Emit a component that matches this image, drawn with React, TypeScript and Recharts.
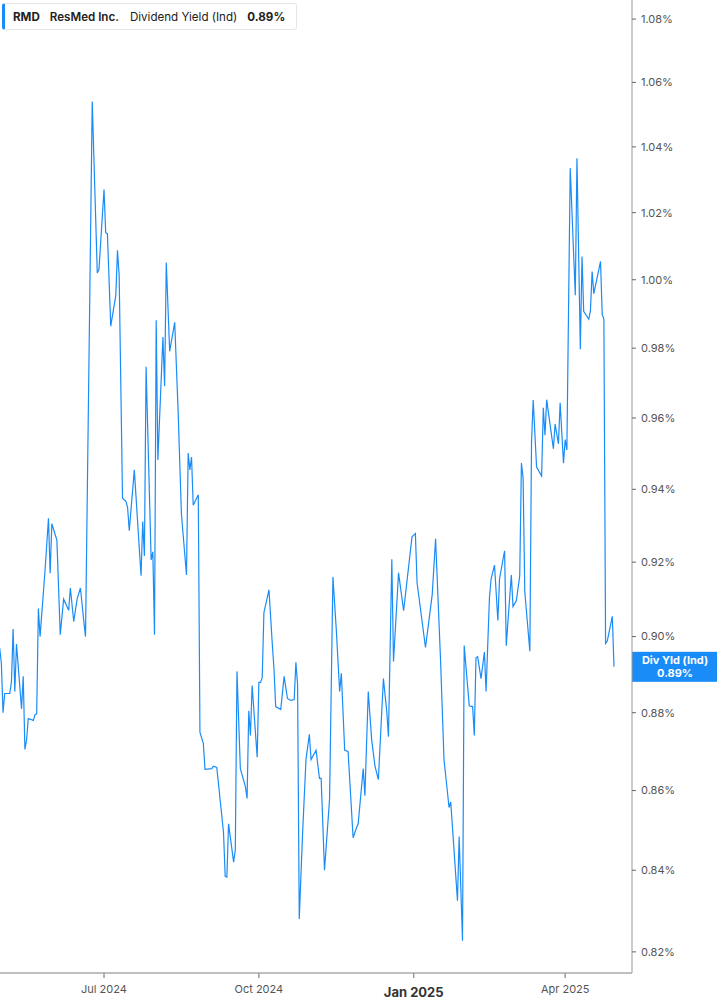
import React from 'react';
import { LineChart, Line, XAxis, YAxis, ReferenceLine } from 'recharts';

const dates = [
  '2024-04-30','2024-05-01','2024-05-02','2024-05-03','2024-05-06','2024-05-07','2024-05-08','2024-05-09','2024-05-10',
  '2024-05-13','2024-05-14','2024-05-15','2024-05-16','2024-05-17','2024-05-20','2024-05-21','2024-05-22','2024-05-23',
  '2024-05-24','2024-05-27','2024-05-29','2024-05-30','2024-05-31','2024-06-03','2024-06-05','2024-06-07','2024-06-10',
  '2024-06-11','2024-06-13','2024-06-15','2024-06-17','2024-06-19','2024-06-20','2024-06-24','2024-06-27','2024-06-28',
  '2024-07-01','2024-07-02','2024-07-03','2024-07-05','2024-07-08','2024-07-09','2024-07-10','2024-07-12','2024-07-14',
  '2024-07-15','2024-07-16','2024-07-19','2024-07-23','2024-07-24','2024-07-25','2024-07-26','2024-07-29','2024-07-30',
  '2024-07-31','2024-08-01','2024-08-02','2024-08-05','2024-08-06','2024-08-07','2024-08-09','2024-08-12','2024-08-14',
  '2024-08-16','2024-08-19','2024-08-20','2024-08-21','2024-08-22','2024-08-23','2024-08-26','2024-08-27','2024-08-29',
  '2024-08-30','2024-09-03','2024-09-04','2024-09-06','2024-09-10','2024-09-11','2024-09-12','2024-09-13','2024-09-16',
  '2024-09-17','2024-09-18','2024-09-20','2024-09-23','2024-09-24','2024-09-25','2024-09-26','2024-09-27','2024-09-30',
  '2024-10-01','2024-10-02','2024-10-03','2024-10-04','2024-10-07','2024-10-09','2024-10-10','2024-10-11','2024-10-14',
  '2024-10-16','2024-10-18','2024-10-20','2024-10-22','2024-10-23','2024-10-24','2024-10-25','2024-10-27','2024-10-29',
  '2024-10-31','2024-11-01','2024-11-04','2024-11-06','2024-11-07','2024-11-09','2024-11-12','2024-11-14','2024-11-16',
  '2024-11-18','2024-11-19','2024-11-21','2024-11-23','2024-11-26','2024-11-28','2024-11-29','2024-12-02','2024-12-03',
  '2024-12-05','2024-12-07','2024-12-09','2024-12-11','2024-12-14','2024-12-16','2024-12-17','2024-12-19','2024-12-20',
  '2024-12-23','2024-12-26','2024-12-31','2025-01-02','2025-01-03','2025-01-08','2025-01-12','2025-01-14','2025-01-17',
  '2025-01-19','2025-01-22','2025-01-23','2025-01-27','2025-01-28','2025-01-30','2025-01-31','2025-02-03','2025-02-05',
  '2025-02-06','2025-02-07','2025-02-08','2025-02-10','2025-02-12','2025-02-13','2025-02-15','2025-02-16','2025-02-18',
  '2025-02-20','2025-02-21','2025-02-24','2025-02-25','2025-02-26','2025-02-28','2025-03-01','2025-03-03','2025-03-05',
  '2025-03-06','2025-03-07','2025-03-08','2025-03-11','2025-03-12','2025-03-13','2025-03-15','2025-03-18','2025-03-19',
  '2025-03-20','2025-03-21','2025-03-25','2025-03-26','2025-03-28','2025-03-29','2025-03-31','2025-04-01','2025-04-02',
  '2025-04-04','2025-04-07','2025-04-08','2025-04-10','2025-04-11','2025-04-12','2025-04-15','2025-04-16','2025-04-17',
  '2025-04-18','2025-04-22','2025-04-23','2025-04-24','2025-04-25','2025-04-26','2025-04-29','2025-04-30',
];

const divYield = [
  0.897,0.893,0.880,0.885,0.885,0.888,0.902,0.8855,0.898,
  0.881,0.8895,0.8705,0.873,0.8785,0.878,0.8795,0.8797,0.9075,
  0.900,0.918,0.932,0.917,0.9305,0.926,0.9005,0.910,0.907,
  0.913,0.904,0.910,0.913,0.904,0.900,1.054,1.002,1.003,
  1.027,1.014,1.0137,0.9864,0.9954,1.0087,1.0012,0.9375,0.9367,
  0.935,0.9286,0.9454,0.9163,0.9311,0.9217,0.9746,0.9206,0.9228,
  0.9005,0.9881,0.9482,0.9832,0.9691,1.0051,0.9791,0.9875,0.9623,
  0.9331,0.9165,0.9501,0.9454,0.949,0.9356,0.9385,0.8749,0.8721,
  0.8654,0.8656,0.8662,0.8659,0.8494,0.8385,0.8383,0.8516,0.842,
  0.8451,0.8908,0.8656,0.861,0.858,0.8805,0.8741,0.8871,0.8685,
  0.8879,0.8879,0.8892,0.9064,0.9125,0.8979,0.8913,0.8816,0.8808,
  0.8895,0.8837,0.8832,0.8834,0.8932,0.8874,0.828,0.8494,0.8679,
  0.8744,0.8679,0.8703,0.8631,0.8631,0.840,0.8577,0.916,0.9019,
  0.8855,0.8903,0.8703,0.870,0.8481,0.8506,0.8516,0.8656,0.8587,
  0.8855,0.8731,0.8662,0.8628,0.8889,0.8803,0.8738,0.9208,0.8934,
  0.9171,0.9069,0.9269,0.9278,0.9144,0.8971,0.9112,0.9264,0.8932,
  0.8679,0.8557,0.8571,0.8325,0.8484,0.8227,0.8976,0.8818,0.8816,
  0.8741,0.8943,0.8947,0.8889,0.8959,0.8855,0.9104,0.9155,0.9192,
  0.9043,0.9155,0.9231,0.8976,0.904,0.9165,0.908,0.9096,0.9163,
  0.9473,0.9431,0.912,0.8961,0.9531,0.9651,0.9462,0.9437,0.9629,
  0.9551,0.9652,0.9513,0.9583,0.9527,0.9643,0.9473,0.9539,0.951,
  1.0335,0.9954,1.0365,0.9797,1.0069,0.9907,0.9884,0.9909,1.0024,
  0.9959,1.0054,0.9899,0.9884,0.8982,0.8988,0.9054,0.892,
];

const xTickDates = ['2024-07-01', '2024-10-01', '2025-01-01', '2025-04-01'];
const xTickLabels = ['Jul 2024', 'Oct 2024', 'Jan 2025', 'Apr 2025'];
const yTicks = [0.82, 0.84, 0.86, 0.88, 0.9, 0.92, 0.94, 0.96, 0.98, 1.0, 1.02, 1.04, 1.06, 1.08];

const LINE_COLOR = '#1a8cf7';
const FONT = 'Inter, Roboto, "DejaVu Sans", sans-serif';
const DAY = 86400000;
const toMs = (s: string) => Date.parse(s + 'T00:00:00Z');

const data = dates.map((d, i) => ({ t: toMs(d), v: divYield[i] }));
const xTicks = xTickDates.map(toMs);
const base = toMs('2024-07-01');
const xDomain = [base - 61.8 * DAY, base + 313.7 * DAY];
const lastValue = divYield[divYield.length - 1];

const XTick = (props: any) => {
  const { x, y, payload } = props;
  const idx = xTicks.indexOf(payload.value);
  const label = xTickLabels[idx] ?? '';
  const bold = label === 'Jan 2025';
  return (
    <text
      x={x}
      y={y + (bold ? 17 : 13)}
      textAnchor="middle"
      fontSize={bold ? 13 : 11}
      fontWeight={bold ? 700 : 400}
      fill={bold ? '#333' : '#555'}
      fontFamily={FONT}
    >
      {label}
    </text>
  );
};

const LastLabel = (props: any) => {
  const vb = props.viewBox || {};
  const x0 = (vb.x ?? 0) + (vb.width ?? 0);
  const y0 = vb.y ?? 0;
  return (
    <g>
      <rect x={x0} y={y0 - 15} width={85} height={30} fill={LINE_COLOR} />
      <text x={x0 + 43} y={y0 - 3} textAnchor="middle" fontSize={11} fontWeight={700} fill="#fff" fontFamily={FONT}>
        Div Yld (Ind)
      </text>
      <text x={x0 + 43} y={y0 + 10} textAnchor="middle" fontSize={11} fontWeight={700} fill="#fff" fontFamily={FONT}>
        {lastValue.toFixed(2)}%
      </text>
    </g>
  );
};

export default function App() {
  return (
    <div style={{ position: 'absolute', left: 0, top: 0, width: 717, height: 1005, background: '#fff', fontFamily: FONT }}>
      <LineChart width={717} height={1005} data={data} margin={{ top: 0, right: 0, bottom: 0, left: 0 }}>
        <XAxis
          dataKey="t"
          type="number"
          domain={xDomain}
          allowDataOverflow
          ticks={xTicks}
          tick={<XTick />}
          tickSize={5}
          height={32}
          stroke="#aaa"
          strokeWidth={1.5}
          tickLine={{ stroke: '#999' }}
        />
        <YAxis
          dataKey="v"
          orientation="right"
          scale="log"
          domain={[0.8149, 1.0861]}
          allowDataOverflow
          ticks={yTicks}
          interval={0}
          tickFormatter={(v: number) => v.toFixed(2) + '%'}
          width={85}
          tickSize={4}
          tickMargin={5}
          stroke="#999"
          tickLine={{ stroke: '#666' }}
          tick={{ fontSize: 11, fill: '#555', fontFamily: FONT }}
        />
        <Line
          type="linear"
          dataKey="v"
          stroke={LINE_COLOR}
          strokeWidth={1.2}
          dot={false}
          isAnimationActive={false}
        />
        <ReferenceLine y={lastValue} stroke="none" ifOverflow="visible" label={(p: any) => <LastLabel {...p} />} />
      </LineChart>
      <div
        style={{
          position: 'absolute',
          left: 2,
          top: 3,
          width: 291,
          height: 25,
          border: '1px solid #e6e6e6',
          borderLeft: `3px solid ${LINE_COLOR}`,
          borderRadius: 3,
          background: '#fff',
          display: 'flex',
          alignItems: 'center',
          fontSize: 11.6,
          color: '#222',
          fontFamily: FONT,
          whiteSpace: 'nowrap',
        }}
      >
        <span style={{ fontWeight: 700, marginLeft: 8 }}>RMD</span>
        <span style={{ fontWeight: 600, marginLeft: 10 }}>ResMed Inc.</span>
        <span style={{ fontWeight: 400, marginLeft: 11 }}>Dividend Yield (Ind)</span>
        <span style={{ fontWeight: 700, marginLeft: 10 }}>0.89%</span>
      </div>
    </div>
  );
}
